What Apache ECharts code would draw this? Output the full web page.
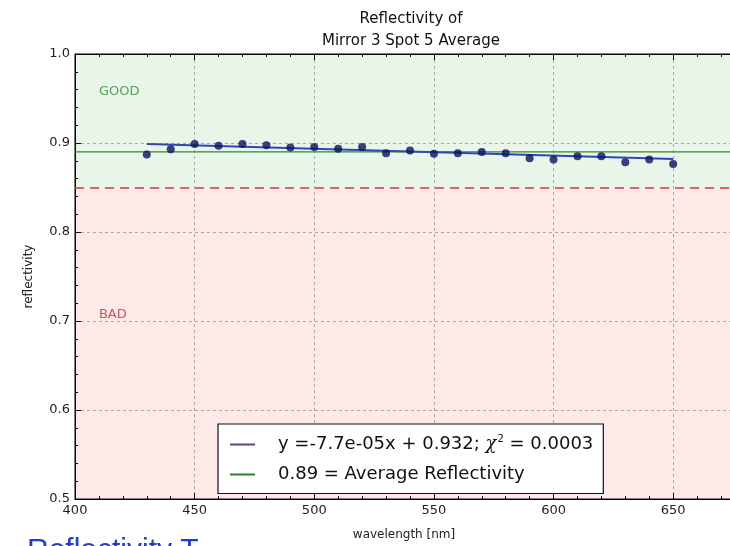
<!DOCTYPE html>
<html>
<head>
<meta charset="utf-8">
<script src="https://cdn.jsdelivr.net/npm/echarts@6/dist/echarts.min.js"></script>
<style>
  html, body { margin: 0; padding: 0; background: #fff; overflow: hidden; }
  #chart { width: 740px; height: 546px; }
</style>
</head>
<body>
<div id="chart"></div>
<script>
// Measured reflectivity per wavelength (nm)
const wavelengths = [430, 440, 450, 460, 470, 480, 490, 500, 510, 520, 530, 540,
                     550, 560, 570, 580, 590, 600, 610, 620, 630, 640, 650];
const reflectivity = [0.887, 0.893, 0.899, 0.897, 0.899, 0.8975, 0.895, 0.8955, 0.8935, 0.8955, 0.8885, 0.8915,
                      0.888, 0.8885, 0.890, 0.8885, 0.883, 0.8815, 0.885, 0.885, 0.8785, 0.8815, 0.8765];

// Linear fit and summary values
const fitSlope = -7.7e-5;
const fitIntercept = 0.932;
const fitChi2 = 0.0003;
const averageReflectivity = 0.89;
const goodThreshold = 0.85;

// Axis ranges and tick spacing
const xRange = [400, 675];
const xTickStep = 50;
const yRange = [0.5, 1.0];
const yTickStep = 0.1;

// Zone labels
const zoneLabels = [
  { text: 'GOOD', x: 410, y: 0.95 },
  { text: 'BAD', x: 410, y: 0.70 }
];
const zoneColors = ['#2f8f2f', '#c83030'];

const FONT = 'DejaVu Sans';
const fitName = 'fit';
const avgName = 'avg';
const fitData = [wavelengths[0], wavelengths[wavelengths.length - 1]]
  .map(x => [x, fitSlope * x + fitIntercept]);

const chart = echarts.init(document.getElementById('chart'), null, { renderer: 'canvas' });

const commonX = {
  type: 'value',
  min: xRange[0], max: xRange[1], interval: xTickStep
};
const gridLine = { show: true, lineStyle: { color: '#b0b0b0', type: [3, 3], width: 1 } };

chart.setOption({
  animation: false,
  backgroundColor: '#fff',
  title: {
    text: 'Reflectivity of\nMirror 3 Spot 5 Average',
    left: 406, top: 3, textAlign: 'center',
    textStyle: { fontFamily: FONT, fontSize: 15, fontWeight: 'normal', color: '#111', lineHeight: 22 }
  },
  grid: { left: 75, top: 54, right: 7, bottom: 45, show: true, borderColor: '#000', borderWidth: 1, backgroundColor: 'transparent' },
  legend: {
    orient: 'vertical',
    left: 218, top: 424,
    data: [
      { name: fitName, itemStyle: { color: '#4a4a95' } },
      { name: avgName, itemStyle: { color: '#2e7d2e' } }
    ],
    icon: 'rect',
    backgroundColor: '#fff',
    borderColor: '#111', borderWidth: 1.2, borderRadius: 0,
    padding: [10, 10, 10, 12],
    itemGap: 12, itemWidth: 25, itemHeight: 2,
    formatter: n => n === fitName
      ? '{a|y =' + fitSlope.toExponential(1).replace('e-5', 'e-05') + 'x + ' + fitIntercept + '; }{i|χ}{s|2}{a| = ' + fitChi2.toFixed(4) + '}'
      : '{a|' + averageReflectivity + ' = Average Reflectivity}',
    textStyle: {
      fontFamily: FONT, fontSize: 18, color: '#111', padding: [0, 0, 0, 18],
      rich: {
        a: { fontFamily: FONT, fontSize: 18, color: '#111', height: 21 },
        i: { fontFamily: 'DejaVu Serif', fontStyle: 'italic', fontSize: 18, color: '#111' },
        s: { fontFamily: FONT, fontSize: 10, color: '#111', padding: [0, 0, 11, 1] }
      }
    }
  },
  xAxis: [
    Object.assign({}, commonX, {
      position: 'bottom',
      name: 'wavelength [nm]', nameLocation: 'middle', nameGap: 30,
      nameTextStyle: { fontFamily: FONT, fontSize: 12, color: '#222' },
      axisLine: { show: true, lineStyle: { color: '#000', width: 1 } },
      axisTick: { show: true, inside: true, length: 6, lineStyle: { color: '#000' } },
      minorTick: { show: true, splitNumber: 5, length: 3, lineStyle: { color: '#000' } },
      axisLabel: { fontFamily: FONT, fontSize: 13, color: '#222', margin: 5,
                   formatter: v => v > 660 ? '' : String(v) },
      splitLine: gridLine
    }),
    Object.assign({}, commonX, {
      position: 'top',
      axisLine: { show: true, lineStyle: { color: '#000', width: 1 } },
      axisTick: { show: true, inside: true, length: 6, lineStyle: { color: '#000' } },
      minorTick: { show: true, splitNumber: 5, length: 3, lineStyle: { color: '#000' } },
      axisLabel: { show: false },
      splitLine: { show: false }
    })
  ],
  yAxis: {
    type: 'value',
    min: yRange[0], max: yRange[1], interval: yTickStep,
    name: 'reflectivity', nameLocation: 'middle', nameGap: 40, nameRotate: 90,
    nameTextStyle: { fontFamily: FONT, fontSize: 12, color: '#222' },
    axisLine: { show: true, lineStyle: { color: '#000', width: 1 } },
    axisTick: { show: true, inside: true, length: 6, lineStyle: { color: '#000' } },
    minorTick: { show: true, splitNumber: 5, length: 3, lineStyle: { color: '#000' } },
    axisLabel: { fontFamily: FONT, fontSize: 13, color: '#222', margin: 5, formatter: v => v.toFixed(1) },
    splitLine: gridLine
  },
  series: [
    {
      // shaded quality zones and threshold line
      type: 'line', name: 'zones', data: [], silent: true,
      markArea: {
        silent: true,
        data: [
          [{ yAxis: goodThreshold, itemStyle: { color: 'rgba(0,140,0,0.09)' } }, { yAxis: yRange[1] }],
          [{ yAxis: yRange[0], itemStyle: { color: 'rgba(245,40,40,0.10)' } }, { yAxis: goodThreshold }]
        ]
      },
      markLine: {
        silent: true, symbol: 'none', label: { show: false },
        lineStyle: { color: '#d63a3a', type: [9, 6], width: 1.5 },
        data: [{ yAxis: goodThreshold }]
      }
    },
    {
      name: avgName, type: 'line', symbol: 'none', z: 3,
      data: [[xRange[0], averageReflectivity], [xRange[1], averageReflectivity]],
      lineStyle: { color: '#2e8b2e', width: 1.4 },
      itemStyle: { color: '#2e8b2e' }
    },
    {
      name: fitName, type: 'line', symbol: 'none', z: 4,
      data: fitData,
      lineStyle: { color: '#3545b8', width: 2 },
      itemStyle: { color: '#4a4a95' }
    },
    {
      name: 'points', type: 'scatter', z: 5,
      data: wavelengths.map((w, i) => [w, reflectivity[i]]),
      symbolSize: 8,
      itemStyle: { color: '#08145e' }
    },
    {
      name: 'zoneLabels', type: 'scatter', symbolSize: 0, silent: true, z: 6,
      data: zoneLabels.map((l, i) => ({
        value: [l.x, l.y], name: l.text,
        label: { color: zoneColors[i] }
      })),
      label: {
        show: true, position: [0, 0], align: 'left', verticalAlign: 'bottom',
        formatter: p => p.name,
        fontFamily: FONT, fontSize: 13
      },
      itemStyle: { color: 'transparent' }
    }
  ],
  graphic: [
    {
      type: 'text', left: 27, top: 536, silent: true,
      style: { text: 'Reflectivity T', fill: '#1f3ad6', font: '30px "Liberation Sans", sans-serif' }
    }
  ]
});
</script>
</body>
</html>
